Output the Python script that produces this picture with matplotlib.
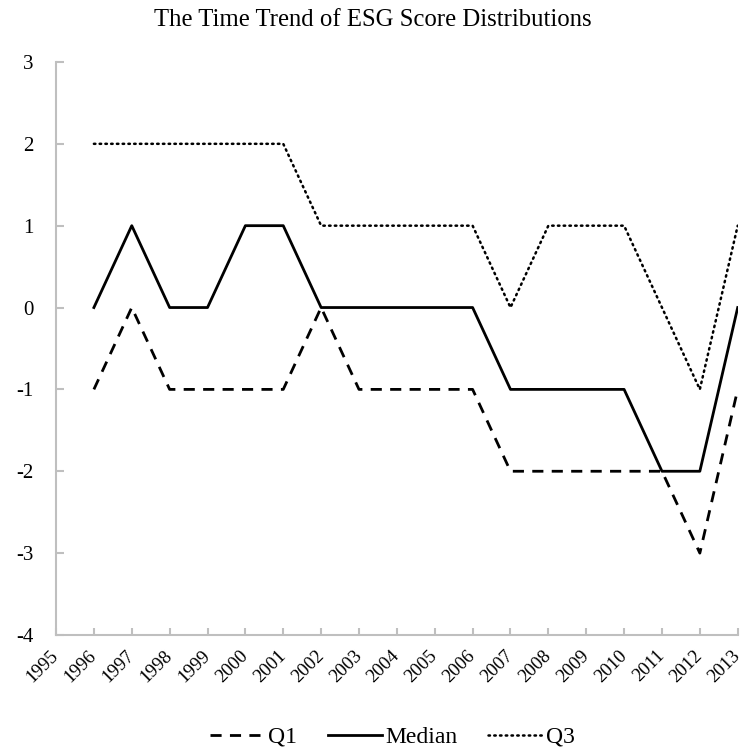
import matplotlib
matplotlib.use('Agg')
import matplotlib.pyplot as plt

years = [str(y) for y in range(1995, 2014)]
q1 = [None, -1, 0, -1, -1, -1, -1, 0, -1, -1, -1, -1, -2, -2, -2, -2, -2, -3, -1]
median = [None, 0, 1, 0, 0, 1, 1, 0, 0, 0, 0, 0, -1, -1, -1, -1, -2, -2, 0]
q3 = [None, 2, 2, 2, 2, 2, 2, 1, 1, 1, 1, 1, 0, 1, 1, 1, 0, -1, 1]

plt.rcParams['font.family'] = ['Liberation Serif', 'DejaVu Serif']
plt.rcParams['axes.unicode_minus'] = False

fig = plt.figure(figsize=(7.52, 7.51), dpi=100)
ax = fig.add_axes([0.0745, 0.1545, 0.9065, 0.763])

x = list(range(len(years)))
nan = float('nan')
ax.plot(x, [nan if v is None else v for v in q1], color='black', linewidth=2,
        linestyle=(0, (4, 3)), label='Q1')
ax.plot(x, [nan if v is None else v for v in median], color='black', linewidth=2,
        linestyle='-', label='Median')
ax.plot(x, [nan if v is None else v for v in q3], color='black', linewidth=1.8,
        linestyle=(0, (0.6, 1.7)), dash_capstyle='round', label='Q3')

ax.set_xlim(0, len(years) - 1)
ax.set_ylim(-4, 3)
ax.set_yticks(range(-4, 4))
ax.set_xticks(x)
ax.set_xticklabels(years, rotation=45, ha='right', va='center', rotation_mode='anchor')

for side in ['top', 'right']:
    ax.spines[side].set_visible(False)
for side in ['left', 'bottom']:
    ax.spines[side].set_color('#bfbfbf')
    ax.spines[side].set_linewidth(1.5)

ax.tick_params(axis='y', direction='in', length=6, color='#bfbfbf', width=1.5, labelsize=15, pad=16)
ax.tick_params(axis='x', direction='in', length=5, color='#bfbfbf', width=1.5, labelsize=13.5, pad=13)

fig.suptitle('The Time Trend of ESG Score Distributions', fontsize=17.8, x=0.496, y=0.974, va='center')

fig.legend(loc='center', ncol=3, frameon=False, fontsize=17, handlelength=2.3,
           columnspacing=1.3, handletextpad=0.15, bbox_to_anchor=(0.522, 0.0186))

plt.savefig('out.png', dpi=100, facecolor='white')
plt.close()
